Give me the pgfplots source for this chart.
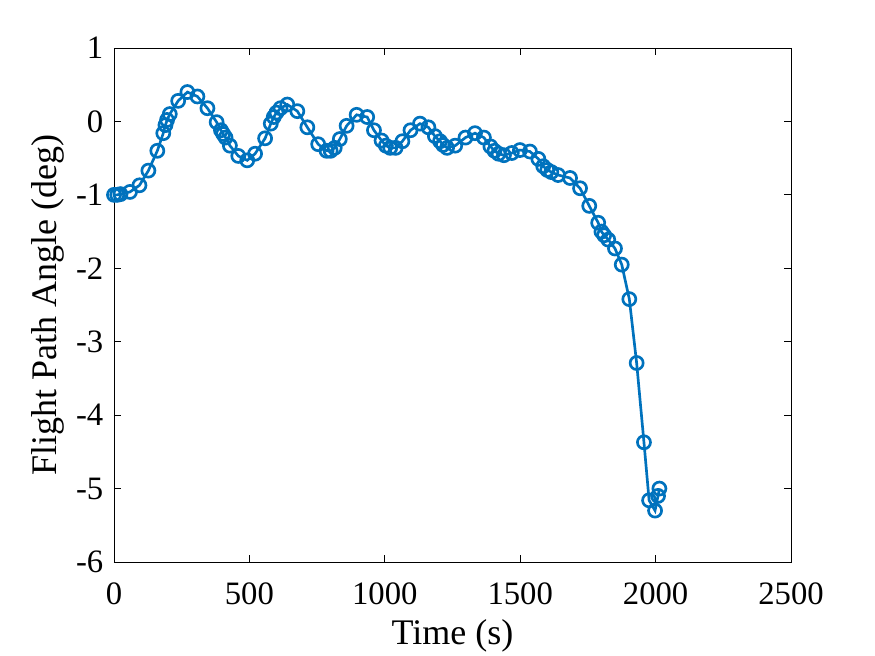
\documentclass[border=0pt]{standalone}
\usepackage{fontspec}
\setmainfont{Liberation Serif}
\usepackage{pgfplots}
\pgfplotsset{compat=1.18}
\definecolor{mblue}{rgb}{0,0.447,0.741}

\begin{document}
\begin{tikzpicture}
% frame of the whole figure: 875x656 px at 0.75pt per px
\useasboundingbox (-85.5pt,-70.5pt) rectangle (570.75pt,421.5pt);
\begin{axis}[
	at={(0,0)}, anchor=south west,
	scale only axis,
	width=507.75pt, height=385.5pt,
	xmin=0, xmax=2500,
	ymin=-6, ymax=1,
	xtick={0,500,...,2500},
	xticklabels={0,500,1000,1500,2000,2500},
	ytick={-6,-5,...,1},
	yticklabels={-6,-5,-4,-3,-2,-1,0,1},
	tick align=inside,
	major tick length=5pt,
	tick style={black, line width=0.6pt},
	axis line style={black, line width=0.6pt},
	ticklabel style={font=\fontsize{24.5}{27}\selectfont},
	xticklabel style={yshift=-12pt},
	yticklabel style={xshift=-4.5pt},
	xlabel={Time (s)},
	ylabel={Flight Path Angle (deg)},
	label style={font=\fontsize{27}{30}\selectfont},
	xlabel style={at={(axis description cs:0.5,-0.144)}, anchor=center},
	ylabel style={at={(axis description cs:-0.0975,0.5)}, anchor=center},
	scaled ticks=false,
	clip=false,
]
\addplot[mblue, line width=2pt, mark=o, mark size=4.9pt,
	mark options={line width=2pt}] coordinates {
	(0,-1.00)(12,-1.00)(24,-0.99)(59,-0.96)(94,-0.87)(127,-0.67)
	(160,-0.40)(182,-0.16)(190,-0.05)(196,0.02)(206,0.10)(237,0.28)
	(271,0.40)(308,0.34)(345,0.18)(379,-0.01)(395,-0.12)(403,-0.17)
	(412,-0.22)(428,-0.33)(459,-0.47)(492,-0.53)(521,-0.44)(558,-0.23)
	(579,-0.03)(590,0.06)(600,0.12)(615,0.18)(640,0.23)(677,0.14)
	(714,-0.08)(754,-0.31)(785,-0.40)(800,-0.40)(815,-0.36)(834,-0.24)
	(859,-0.06)(896,0.09)(935,0.06)(960,-0.12)(988,-0.26)(1004,-0.33)
	(1020,-0.36)(1040,-0.36)(1065,-0.27)(1095,-0.12)(1130,-0.03)(1161,-0.08)
	(1185,-0.20)(1204,-0.27)(1215,-0.32)(1230,-0.36)(1260,-0.33)(1298,-0.22)
	(1333,-0.16)(1366,-0.22)(1390,-0.34)(1405,-0.40)(1420,-0.44)(1440,-0.46)
	(1469,-0.43)(1499,-0.39)(1536,-0.41)(1567,-0.51)(1585,-0.61)(1600,-0.66)
	(1615,-0.69)(1640,-0.73)(1684,-0.77)(1721,-0.91)(1755,-1.15)(1788,-1.38)
	(1800,-1.50)(1810,-1.55)(1825,-1.61)(1850,-1.73)(1875,-1.95)(1903,-2.42)
	(1930,-3.29)(1957,-4.37)(1976,-5.16)(1998,-5.30)(2009,-5.10)(2014,-5.00)
};
\end{axis}
\end{tikzpicture}
\end{document}
